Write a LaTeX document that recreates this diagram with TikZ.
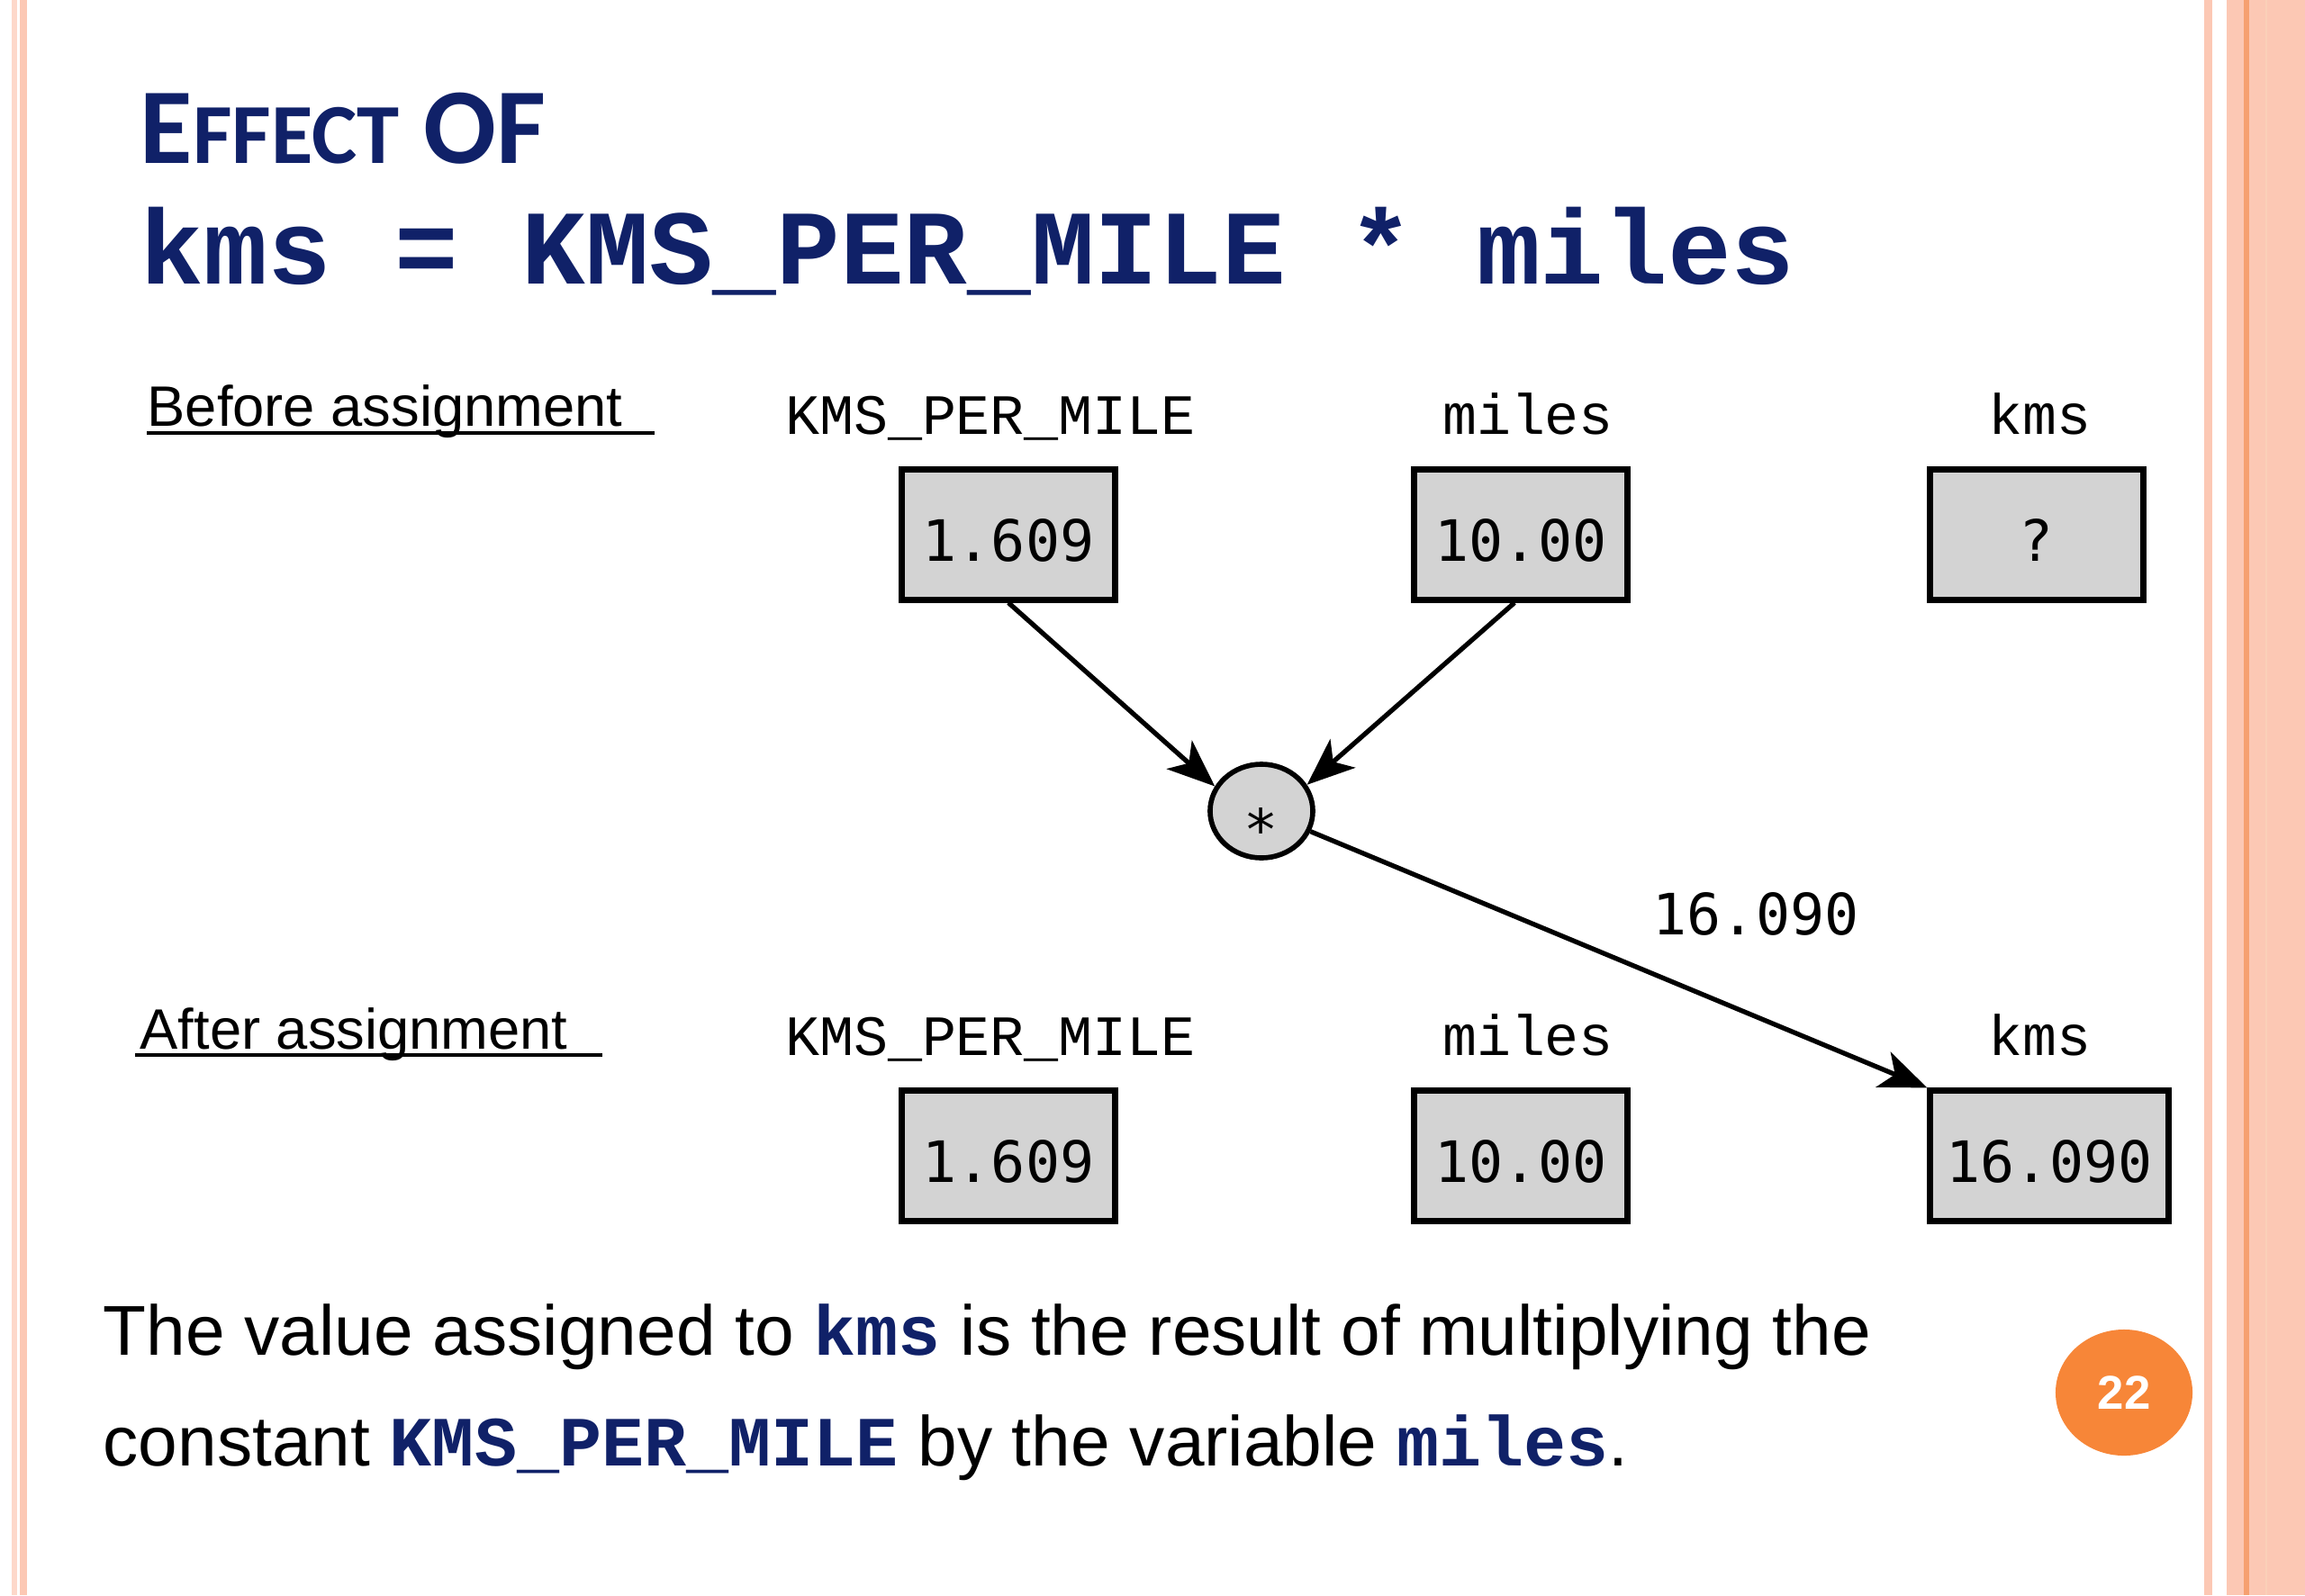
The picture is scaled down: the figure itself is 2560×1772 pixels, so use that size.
\documentclass[tikz,border=0pt]{standalone}
\usepackage{fontspec}
\setmainfont{Liberation Sans}
\newfontfamily\codefont{Liberation Mono}
\newfontfamily\valfont{DejaVu Sans Mono}
\newfontfamily\titlefont{Carlito}
\usetikzlibrary{shapes.geometric,arrows.meta,positioning}
\definecolor{navy}{RGB}{16,33,104}
\definecolor{boxgray}{RGB}{211,211,211}
\definecolor{slidepink}{RGB}{252,200,180}
\definecolor{slideline}{RGB}{246,160,112}
\definecolor{pageorange}{RGB}{247,134,56}
\tikzstyle{varbox} =[rectangle, draw=black, fill=boxgray, line width=2pt,
                     minimum width=2.37cm, minimum height=1.44cm, inner sep=0pt,
                     text height=17pt, text depth=0pt,
                     font=\valfont\fontsize{18}{20}\selectfont]
\tikzstyle{opnode} =[ellipse, draw=black, fill=boxgray, line width=1.6pt,
                     minimum width=1.14cm, minimum height=1.04cm, inner sep=0pt,
                     font=\valfont\fontsize{18}{20}\selectfont]
\tikzstyle{varname}=[anchor=base, inner sep=0pt, font=\codefont\fontsize{18}{20}\selectfont]
\tikzstyle{phase}  =[anchor=base west, inner sep=0pt, font=\fontsize{18}{20}\selectfont]
\tikzstyle{arr}    =[-{Stealth[length=15pt,width=12pt,inset=4pt]}, line width=1.5pt]
\newcommand{\code}[1]{{\codefont\bfseries\color{navy}#1}}

\begin{document}
\begin{tikzpicture}[x=0.01cm, y=-0.01cm]

  % ── slide frame ────────────────────────────────────────────────────────────
  \fill[white] (0,0) rectangle (2560,1772);
  \useasboundingbox (0,0) rectangle (2560,1772);
  \fill[slidepink!70] (13,0) rectangle (19,1772);
  \fill[slidepink] (22,0) rectangle (30,1772);
  \fill[slidepink] (2448,0) rectangle (2457,1772);
  \fill[slidepink] (2473,0) rectangle (2560,1772);
  \draw[slideline, line width=1.5pt] (2495,0) -- (2495,1772);
  \draw[slideline!50, line width=0.8pt] (2517,0) -- (2517,1772);

  % ── title ──────────────────────────────────────────────────────────────────
  \node[anchor=base west, inner sep=0pt, text=navy,
        font=\titlefont\bfseries\fontsize{34}{38}\selectfont] (title) at (155,181)
    {E{\fontsize{27}{30}\selectfont FFECT} OF};
  \node[anchor=base west, inner sep=0pt, text=navy,
        font=\codefont\bfseries\fontsize{33.5}{40}\selectfont] (stmt) at (155,315)
    {kms = KMS\_PER\_MILE * miles};

  % ── before ─────────────────────────────────────────────────────────────────
  \node[phase] (before) at (163,473) {Before assignment};
  \draw[line width=0.9pt] (163,481) -- (727,481);
  \node[varname] (lconst) at (1100,482) {KMS\_PER\_MILE};
  \node[varname] (lmiles) at (1697,482) {miles};
  \node[varname] (lkms)   at (2265,482) {kms};
  \node[varbox] (kpm1)   at (1120,594) {1.609};
  \node[varbox] (miles1) at (1689,594) {10.00};
  \node[varbox] (kms1)   at (2262,594) {?};

  % ── multiply ───────────────────────────────────────────────────────────────
  \node[opnode] (mul) at (1401,901) {\smash{\raisebox{-12.5pt}{*}}};
  \draw[arr] (kpm1.south) -- (mul.152);
  \draw[arr] ([xshift=-0.07cm]miles1.south) -- (mul.30);

  % ── after ──────────────────────────────────────────────────────────────────
  \node[phase] (after) at (155,1165) {After assignment};
  \draw[line width=0.9pt] (150,1172) -- (669,1172);
  \node[varname] (lconst2) at (1100,1172) {KMS\_PER\_MILE};
  \node[varname] (lmiles2) at (1697,1172) {miles};
  \node[varname] (lkms2)   at (2265,1172) {kms};
  \node[varbox] (kpm2)   at (1120,1284) {1.609};
  \node[varbox] (miles2) at (1689,1284) {10.00};
  \node[varbox, minimum width=2.64cm] (kms2) at (2276,1284) {16.090};

  \draw[arr] (mul) -- (kms2.north west);
  \node[inner sep=0pt, font=\valfont\fontsize{18}{20}\selectfont] (result) at (1950,1015) {16.090};

  % ── caption ────────────────────────────────────────────────────────────────
  \node[anchor=base west, inner sep=0pt, font=\fontsize{22.3}{26}\selectfont] (cap1) at (114,1505)
    {The value assigned to \code{kms} is the result of multiplying the};
  \node[anchor=base west, inner sep=0pt, font=\fontsize{22.3}{26}\selectfont] (cap2) at (114,1628)
    {constant \code{KMS\_PER\_MILE} by the variable \code{miles}.};

  % ── page number ────────────────────────────────────────────────────────────
  \node[ellipse, fill=pageorange, minimum width=1.52cm, minimum height=1.40cm,
        text=white, font=\bfseries\fontsize{15}{17}\selectfont] (page) at (2359,1547) {22};

\end{tikzpicture}
\end{document}
